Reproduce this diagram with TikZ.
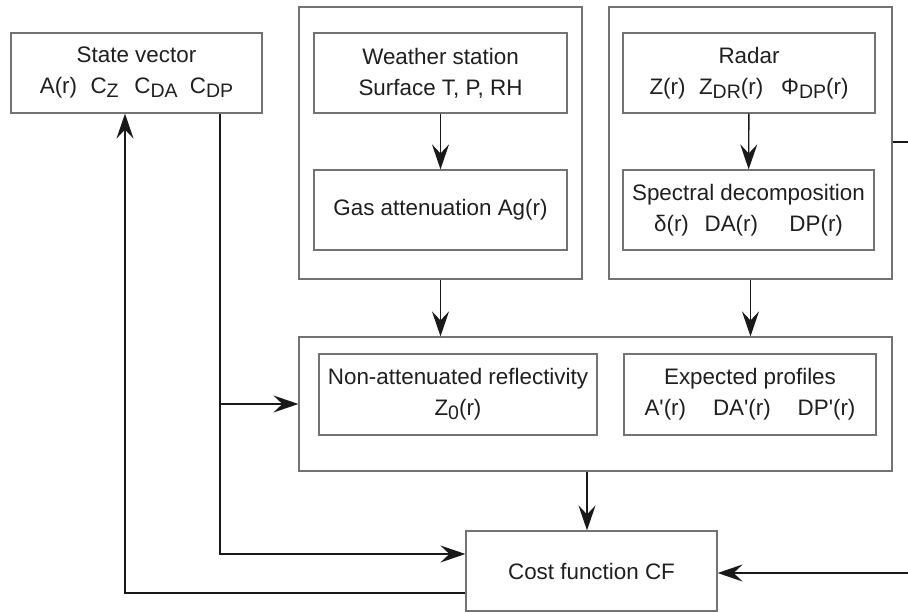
\documentclass[tikz,border=0pt]{standalone}
\usepackage{fontspec}
\setmainfont{Liberation Sans}
\usetikzlibrary{arrows.meta}
\definecolor{boxgrey}{gray}{0.45}
\definecolor{arrc}{gray}{0.1}
\definecolor{txt}{gray}{0.12}
\newcommand\lowsub[1]{\raisebox{-4pt}{\fontsize{19.5}{19.5}\selectfont #1}}
\begin{document}
\begin{tikzpicture}[x=1pt,y=-1pt,
  grp/.style={draw=boxgrey, line width=1.2pt, inner sep=0pt},
  blk/.style={draw=boxgrey, line width=1.2pt, inner sep=0pt, align=center,
    text=txt, font=\fontsize{22.4}{31}\selectfont},
  arr/.style={draw=arrc, line width=1.4pt, -{Stealth[length=25pt,width=17pt,inset=9pt]}},
  ln/.style={draw=arrc, line width=1.4pt}]
\useasboundingbox (0,0) rectangle (908,612);
% groups
\node[grp, minimum width=283pt, minimum height=272pt] (wgrp) at (440.5,143) {};
\node[grp, minimum width=283pt, minimum height=272pt] (rgrp) at (750.5,143) {};
\node[grp, minimum width=593pt, minimum height=134pt] (big) at (595.5,404) {};
% blocks
\node[blk, minimum width=251pt, minimum height=80pt] (sv) at (136.5,73)
  {State vector\\A(r)\hspace{0.6em}C\lowsub{Z}\hspace{0.7em}C\lowsub{DA}\hspace{0.55em}C\lowsub{DP}};
\node[blk, minimum width=253pt, minimum height=80pt] (ws) at (440.5,73)
  {Weather station\\Surface T, P, RH};
\node[blk, minimum width=253pt, minimum height=80pt] (gas) at (440.5,210)
  {Gas attenuation Ag(r)};
\node[blk, minimum width=252pt, minimum height=80pt] (radar) at (749,73)
  {Radar\\Z(r)\hspace{0.6em}Z\lowsub{DR}(r)\hspace{0.8em}Φ\lowsub{DP}(r)};
\node[blk, minimum width=251pt, minimum height=80pt] (spec) at (748.5,210)
  {Spectral decomposition\\δ(r)\hspace{0.7em}DA(r)\hspace{1.4em}DP(r)};
\node[blk, minimum width=278pt, minimum height=81pt] (nonatt) at (458,394.5)
  {Non-attenuated reflectivity\\Z\lowsub{0}(r)};
\node[blk, minimum width=252pt, minimum height=81pt] (expp) at (750,394.5)
  {Expected profiles\\A\textquotesingle(r)\hspace{1.2em}DA\textquotesingle(r)\hspace{1.2em}DP\textquotesingle(r)};
\node[blk, minimum width=251pt, minimum height=80pt] (cost) at (591.5,571)
  {Cost function CF};
% free ends at the right edge
\coordinate (rout) at (908,142);
\coordinate (rin) at (908,573);
\coordinate (svout) at ([xshift=83.5pt]sv.south);
\coordinate (svin) at ([xshift=-11.5pt]sv.south);
% connectors
\draw[arr] (ws) -- (gas);
\draw[arr] (radar) -- (spec);
\draw[arr] (wgrp.south) -- (wgrp.south |- big.north);
\draw[arr] (rgrp.south) -- (rgrp.south |- big.north);
\draw[arr] ([xshift=-4.5pt]cost.north |- big.south) -- ([xshift=-4.5pt]cost.north);
\draw[arr] (svout) |- ([yshift=17pt]cost.west);
\draw[arr] (svout |- big.west) -- (big.west);
\draw[arr] ([yshift=-22pt]cost.west) -| (svin);
\draw[ln] (rout -| rgrp.east) -- (rout);
\draw[arr] (rin) -- (rin -| cost.east);
\end{tikzpicture}
\end{document}
